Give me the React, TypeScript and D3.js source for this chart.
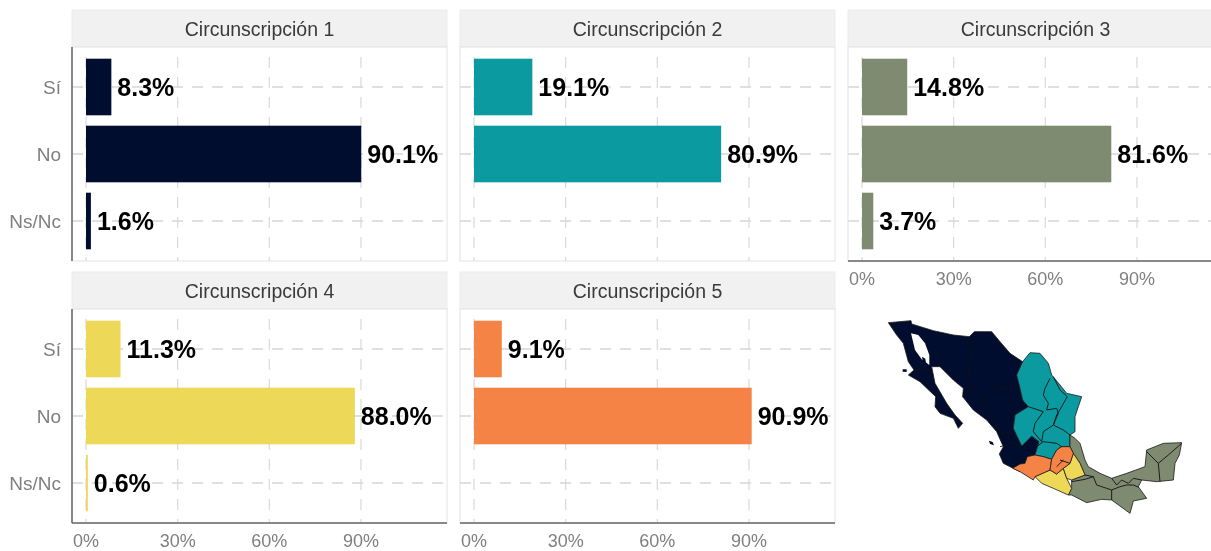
import React from "react";
import * as d3 from "d3";

const categories = ["Sí", "No", "Ns/Nc"];
const ticks = [0, 30, 60, 90];
const circ1 = [8.3, 90.1, 1.6];
const circ2 = [19.1, 80.9, 0];
const circ3 = [14.8, 81.6, 3.7];
const circ4 = [11.3, 88.0, 0.6];
const circ5 = [9.1, 90.9, 0];
const names = ["Circunscripción 1", "Circunscripción 2", "Circunscripción 3", "Circunscripción 4", "Circunscripción 5"];
const colors = ["#000d2e", "#0b9aa0", "#7e8b70", "#eed857", "#f58345"];
const seriesList = [circ1, circ2, circ3, circ4, circ5];

const navyMain = [[145,68],[213,62],[215,72],[280,92],[340,105],[388,110],[403,95],[455,95],[480,125],[510,160],[548,185],[530,225],[540,265],[548,300],[565,320],[525,345],[520,385],[545,438],[575,408],[597,425],[585,465],[562,470],[555,490],[540,515],[510,500],[490,490],[478,462],[490,440],[470,395],[440,360],[400,330],[368,290],[370,265],[340,240],[300,200],[275,200],[285,250],[320,310],[345,345],[368,370],[355,385],[340,355],[300,340],[285,320],[287,290],[240,245],[205,225],[222,210],[205,185],[190,130],[170,105]];
const upperGulf = [[213,100],[235,105],[255,130],[268,165],[268,195],[245,178],[225,150]];
const islands = [[[188,208],[200,208],[200,216],[188,215]],[[447,422],[458,426],[462,436],[450,432]],[[246,170],[256,176],[258,190],[248,184]]];
const teal = [[570,158],[600,160],[625,190],[635,225],[660,255],[680,280],[725,290],[715,320],[705,350],[705,395],[690,405],[690,440],[665,440],[650,450],[635,478],[610,470],[585,465],[597,425],[575,408],[545,438],[520,385],[525,345],[565,320],[548,300],[540,265],[530,225],[548,185]];
const sage = [[690,405],[705,415],[720,430],[735,480],[745,500],[780,520],[815,535],[860,520],[915,500],[920,450],[970,430],[1025,428],[1018,465],[1005,490],[1000,540],[950,545],[905,540],[895,560],[920,595],[880,603],[870,640],[815,600],[785,598],[740,608],[695,585],[685,585],[695,565],[695,540],[735,525],[720,490],[700,460],[690,440]];
const yellowGro = [[585,530],[630,510],[650,522],[670,505],[680,535],[695,565],[685,585],[640,565],[605,550]];
const yellowPue = [[670,505],[690,490],[700,460],[720,490],[735,525],[695,540],[680,535]];
const orangeMich = [[518,505],[540,492],[555,490],[562,470],[585,465],[610,470],[635,478],[630,510],[585,530],[580,540],[540,515]];
const orangeCen = [[630,510],[635,478],[650,450],[665,440],[690,440],[700,460],[690,490],[670,505],[650,522]];
const regions = [
  { pts: navyMain, c: 0 }, { pts: teal, c: 1 }, { pts: sage, c: 2 },
  { pts: yellowGro, c: 3 }, { pts: yellowPue, c: 3 }, { pts: orangeMich, c: 4 }, { pts: orangeCen, c: 4 },
];
const borders = [
  [[388,110],[395,170],[380,240],[400,260]],[[368,290],[400,260],[430,295],[460,265],[530,262]],
  [[430,295],[445,340],[480,395],[520,400]],[[222,210],[270,205]],[[480,440],[520,430],[545,438]],
  [[630,235],[615,265],[610,285],[625,310],[620,330],[650,325],[655,340],[640,375],[670,390],[690,405]],
  [[640,230],[660,270],[682,290],[665,320],[650,345],[640,375]],
  [[565,320],[610,335],[585,370],[580,395],[605,425]],[[590,440],[610,425],[650,430],[665,440]],[[640,375],[610,395],[605,425]],
  [[660,480],[690,490]],[[650,500],[670,480]],
  [[920,455],[955,490],[985,465],[1025,430]],[[955,490],[960,545]],
  [[695,545],[735,538],[760,530],[770,555],[800,565],[815,570],[815,600]],
  [[815,535],[830,555],[845,540],[865,550],[880,535],[905,540]],
  [[815,570],[840,560],[860,555],[880,555],[897,562]],[[735,525],[760,530]],
];

const panelW = 375, panelH = 214, stripH = 37;
const colX = [72, 460, 848];
const rowY = [47, 309];
const pxPerPct = 3.055;
const zeroOffset = 14;
const font = "'Liberation Sans', Arial, sans-serif";

function Panel({ idx }: { idx: number }) {
  const col = idx % 3, row = idx < 3 ? 0 : 1;
  const x0 = colX[col], y0 = rowY[row];
  const x = d3.scaleLinear().domain([0, 100]).range([x0 + zeroOffset, x0 + zeroOffset + pxPerPct * 100]);
  const y = d3.scaleBand<string>().domain(categories).range([y0 + 6.5, y0 + panelH - 6.5]).paddingInner(0.155).paddingOuter(0.0775);
  const vals = seriesList[idx];
  const showX = idx >= 2;
  return (
    <g>
      <rect x={x0} y={y0 - stripH} width={panelW} height={stripH} fill="#f1f1f1" stroke="#ececec" />
      <text x={x0 + panelW / 2} y={y0 - stripH / 2 + 7} textAnchor="middle" fontSize={19.5} fill="#3a3a3a" fontFamily={font}>{names[idx]}</text>
      <rect x={x0} y={y0} width={panelW} height={panelH} fill="#fff" stroke="#e2e2e2" />
      {ticks.map(t => (
        <line key={t} x1={x(t)} x2={x(t)} y1={y0 + 10} y2={y0 + panelH} stroke="#dcdcdc" strokeWidth={1.3} strokeDasharray="11 9" />
      ))}
      {categories.map(c => (
        <line key={c} x1={x0} x2={x0 + panelW} y1={y(c)! + y.bandwidth() / 2} y2={y(c)! + y.bandwidth() / 2} stroke="#d6d6d6" strokeWidth={1.3} strokeDasharray="11 9" />
      ))}
      {categories.map((c, i) => vals[i] > 0 && (
        <rect key={c} x={x(0)} y={y(c)} width={x(vals[i]) - x(0)} height={y.bandwidth()} fill={colors[idx]} />
      ))}
      {categories.map((c, i) => vals[i] > 0 && (
        <text key={c} x={x(vals[i]) + 6} y={y(c)! + y.bandwidth() / 2 + 9} fontSize={25} fontWeight={700} fill="#000" fontFamily={font}>{vals[i].toFixed(1)}%</text>
      ))}
      {col === 0 && <line x1={x0} x2={x0} y1={y0} y2={y0 + panelH} stroke="#666" strokeWidth={1.5} />}
      {col === 0 && categories.map(c => (
        <text key={c} x={x0 - 11} y={y(c)! + y.bandwidth() / 2 + 7} textAnchor="end" fontSize={19} fill="#7f7f7f" fontFamily={font}>{c}</text>
      ))}
      {showX && <line x1={x0} x2={x0 + panelW} y1={y0 + panelH} y2={y0 + panelH} stroke="#666" strokeWidth={1.5} />}
      {showX && ticks.map(t => (
        <text key={t} x={x(t)} y={y0 + panelH + 24} textAnchor="middle" fontSize={18} fill="#7f7f7f" fontFamily={font}>{t}%</text>
      ))}
    </g>
  );
}

export default function App() {
  const mx = d3.scaleLinear().domain([0, 1113]).range([840, 1211]);
  const my = d3.scaleLinear().domain([0, 690]).range([300, 530]);
  const line = d3.line<number[]>().x(d => mx(d[0])).y(d => my(d[1]));
  return (
    <svg width={1211} height={551} style={{ position: "absolute", left: 0, top: 0, filter: "blur(0.55px)" }}>
      <rect width={1211} height={551} fill="#fff" />
      {names.map((_, i) => <Panel key={i} idx={i} />)}
      {regions.map((r, i) => (
        <path key={i} d={line(r.pts as number[][]) + "Z"} fill={colors[r.c]} stroke="#1a1a1a" strokeWidth={0.8} strokeLinejoin="round" />
      ))}
      <path d={line(upperGulf as number[][]) + "Z"} fill="#fff" />
      {islands.map((p, i) => (
        <path key={i} d={line(p as number[][]) + "Z"} fill={colors[0]} />
      ))}
      {borders.map((b, i) => (
        <path key={i} d={line(b as number[][])!} fill="none" stroke="#111" strokeWidth={0.9} strokeLinejoin="round" />
      ))}
    </svg>
  );
}
